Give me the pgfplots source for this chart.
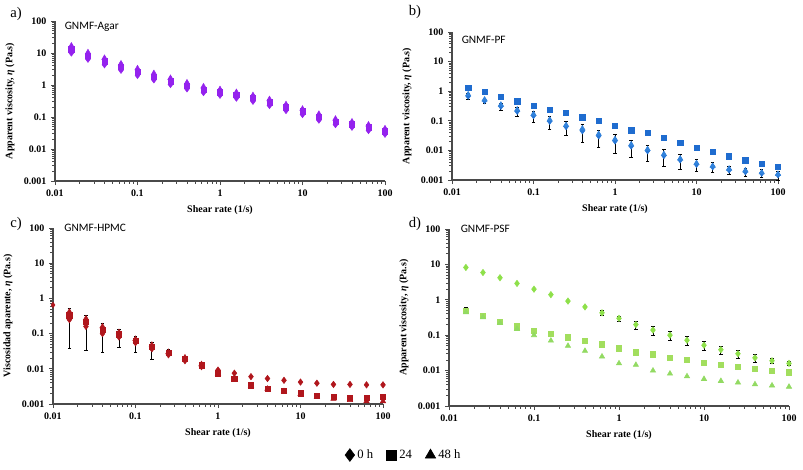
\documentclass[border=0pt]{standalone}
\usepackage{pgfplots}
\pgfplotsset{compat=1.18}
\usepackage{pgfplotstable}
\usepackage{fontspec}
\setmainfont{Liberation Serif}
\newfontfamily\carlito{Carlito}

\definecolor{axgray}{HTML}{4A4A4A}
\definecolor{cpur}{HTML}{9422EE}
\definecolor{cblueS}{HTML}{1F6CCF}
\definecolor{cblueD}{HTML}{2676D6}
\definecolor{cblueT}{HTML}{3283DC}
\definecolor{cred}{HTML}{B0161C}
\definecolor{cgreenD}{HTML}{8EE04A}
\definecolor{cgreenS}{HTML}{A2DE5E}
\definecolor{cgreenT}{HTML}{92DA62}

\pgfplotstableread{
x d s t
0.0158 10 13 17
0.0251 6.4 8.2 10.5
0.0398 4.3 5.5 7.0
0.0631 2.9 3.7 4.7
0.1 2.0 2.6 3.3
0.158 1.45 1.85 2.35
0.251 1.04 1.3 1.65
0.398 0.76 0.95 1.2
0.631 0.58 0.72 0.9
1 0.48 0.6 0.74
1.58 0.39 0.49 0.6
2.51 0.31 0.39 0.48
3.98 0.23 0.29 0.36
6.31 0.16 0.2 0.25
10 0.12 0.15 0.18
15.8 0.08 0.1 0.125
25.1 0.058 0.072 0.088
39.8 0.048 0.06 0.072
63.1 0.038 0.048 0.058
100 0.029 0.036 0.044
}\tA

\pgfplotstableread{
x d s t de
0.0158 0.68 1.3 0.78 0.15
0.0251 0.48 0.95 0.52 0.1
0.0398 0.31 0.65 0.35 0.08
0.0631 0.21 0.46 0.24 0.07
0.1 0.15 0.32 0.17 0.06
0.158 0.097 0.23 0.11 0.045
0.251 0.064 0.19 0.072 0.032
0.398 0.046 0.13 0.055 0.027
0.631 0.031 0.1 0.036 0.018
1 0.021 0.068 0.024 0.013
1.58 0.014 0.048 0.016 0.008
2.51 0.0097 0.04 0.011 0.0055
3.98 0.0067 0.027 0.0075 0.0038
6.31 0.0048 0.018 0.0053 0.0025
10 0.0034 0.0125 0.0037 0.0014
15.8 0.0028 0.0088 0.003 0.001
25.1 0.0022 0.0064 0.0024 0.0007
39.8 0.0019 0.0047 0.0021 0.0006
63.1 0.0017 0.0035 0.0018 0.0005
100 0.0015 0.0028 0.0016 0.0005
}\tB

\pgfplotstableread{
x d s t
0.0158 0.25 0.33 0.42
0.0251 0.16 0.22 0.27
0.0398 0.10 0.13 0.16
0.0631 0.08 0.095 0.11
0.1 0.055 0.062 0.07
0.158 0.037 0.043 0.048
0.251 0.025 0.028 0.03
0.398 0.017 0.019 0.021
0.631 0.0115 0.0125 0.0135
1 0.0092 0.0075 0.0072
1.58 0.0075 0.0053 0.005
2.51 0.006 0.0034 0.0033
3.98 0.0053 0.0027 0.0027
6.31 0.0047 0.0024 0.0023
10 0.0042 0.0020 0.0019
15.8 0.0039 0.0017 0.0016
25.1 0.0036 0.0016 0.0014
39.8 0.0036 0.0015 0.0013
63.1 0.0035 0.0015 0.0012
100 0.0035 0.0016 0.0012
}\tC

% error bars of the 48 h series in c (where visible)
\pgfplotstableread{
x t tp tm
0.0158 0.42 0.1 0.383
0.0251 0.27 0.06 0.237
0.0398 0.16 0.04 0.13
0.0631 0.11 0.02 0.07
0.1 0.07 0.015 0.04
0.158 0.048 0.01 0.029
0.251 0.03 0.006 0.006
}\tCe

\pgfplotstableread{
x d s t de se
0.0158 8.2 0.48 0.44 0 0.15
0.0251 5.9 0.35 0.32 0 0.06
0.0398 4.2 0.24 0.22 0 0
0.0631 2.9 0.18 0.15 0 0
0.1 2.0 0.135 0.1 0 0
0.158 1.4 0.11 0.07 0 0
0.251 0.92 0.088 0.05 0 0
0.398 0.63 0.07 0.036 0 0
0.631 0.43 0.055 0.025 0.06 0
1 0.3 0.043 0.016 0.05 0
1.58 0.2 0.033 0.0145 0.05 0
2.51 0.14 0.029 0.01 0.04 0
3.98 0.1 0.023 0.0082 0.03 0
6.31 0.072 0.02 0.0069 0.02 0
10 0.052 0.017 0.0058 0.015 0
15.8 0.039 0.0145 0.0051 0.01 0
25.1 0.03 0.0128 0.0046 0.008 0
39.8 0.023 0.0113 0.0041 0.006 0
63.1 0.019 0.0098 0.0038 0.0035 0
100 0.016 0.009 0.0035 0.002 0
}\tD

\begin{document}
\begin{tikzpicture}
\path[use as bounding box] (0,0) rectangle (602.25pt,351.75pt);

% a
\begin{axis}[at={(41.25pt,216pt)}, anchor=south west, width=247.5pt, height=120pt,
    xmode=log, ymode=log, scale only axis,
    xmin=0.01, xmax=100, ymin=0.001, ymax=100,
    axis lines=left, axis line style={-, draw=axgray, line width=0.9pt},
    xtick={0.01,0.1,1,10,100}, xticklabels={\textbf{0.01},\textbf{0.1},\textbf{1},\textbf{10},\textbf{100}},
    ytick={0.001,0.01,0.1,1,10,100}, yticklabels={\textbf{0.001},\textbf{0.01},\textbf{0.1},\textbf{1},\textbf{10},\textbf{100}},
    tick align=outside, major tick length=3pt, minor tick length=2pt,
    tick style={axgray, line width=0.6pt},
    ticklabel style={font=\bfseries\fontsize{7.5}{8}\selectfont},
    label style={font=\bfseries\fontsize{7.5}{8}\selectfont},
    xlabel={Shear rate (1/s)}, clip=false,
  ylabel={Apparent viscosity, {\itshape η} (Pa.s)}]
\addplot[only marks, mark size=2.4pt, mark=diamond*, color=cpur] table[x=x,y=d] {\tA};
\addplot[only marks, mark size=2pt, mark=square*, color=cpur] table[x=x,y=s] {\tA};
\addplot[only marks, mark size=2.3pt, mark=triangle*, color=cpur] table[x=x,y=t] {\tA};
\node[anchor=north west, font=\carlito\fontsize{8.5}{10}\selectfont, inner sep=1pt] at (rel axis cs:0.025,1) {GNMF-Agar};
\end{axis}

% b
\begin{axis}[at={(339pt,216.75pt)}, anchor=south west, width=244.5pt, height=111pt,
    xmode=log, ymode=log, scale only axis,
    xmin=0.01, xmax=100, ymin=0.001, ymax=100,
    axis lines=left, axis line style={-, draw=axgray, line width=0.9pt},
    xtick={0.01,0.1,1,10,100}, xticklabels={\textbf{0.01},\textbf{0.1},\textbf{1},\textbf{10},\textbf{100}},
    ytick={0.001,0.01,0.1,1,10,100}, yticklabels={\textbf{0.001},\textbf{0.01},\textbf{0.1},\textbf{1},\textbf{10},\textbf{100}},
    tick align=outside, major tick length=3pt, minor tick length=2pt,
    tick style={axgray, line width=0.6pt},
    ticklabel style={font=\bfseries\fontsize{7.5}{8}\selectfont},
    label style={font=\bfseries\fontsize{7.5}{8}\selectfont},
    xlabel={Shear rate (1/s)}, clip=false,
  ylabel={Apparent viscosity, {\itshape η} (Pa.s)}]
\addplot[only marks, mark size=2.4pt, mark=diamond*, color=cblueD,
  error bars/.cd, y dir=both, y explicit,
    error bar style={black, line width=0.6pt},
    error mark options={black, rotate=90, mark size=1.3pt, line width=0.6pt}] table[x=x,y=d,y error=de] {\tB};
\addplot[only marks, mark size=2pt, mark=square*, color=cblueS] table[x=x,y=s] {\tB};
\addplot[only marks, mark size=2.3pt, mark=triangle*, color=cblueT] table[x=x,y=t] {\tB};
\node[anchor=north west, font=\carlito\fontsize{8.5}{10}\selectfont, inner sep=1pt] at (rel axis cs:0.025,0.98) {GNMF-PF};
\end{axis}

% c
\begin{axis}[at={(39.75pt,48.75pt)}, anchor=south west, width=247.5pt, height=132pt,
    xmode=log, ymode=log, scale only axis,
    xmin=0.01, xmax=100, ymin=0.001, ymax=100,
    axis lines=left, axis line style={-, draw=axgray, line width=0.9pt},
    xtick={0.01,0.1,1,10,100}, xticklabels={\textbf{0.01},\textbf{0.1},\textbf{1},\textbf{10},\textbf{100}},
    ytick={0.001,0.01,0.1,1,10,100}, yticklabels={\textbf{0.001},\textbf{0.01},\textbf{0.1},\textbf{1},\textbf{10},\textbf{100}},
    tick align=outside, major tick length=3pt, minor tick length=2pt,
    tick style={axgray, line width=0.6pt},
    ticklabel style={font=\bfseries\fontsize{7.5}{8}\selectfont},
    label style={font=\bfseries\fontsize{7.5}{8}\selectfont},
    xlabel={Shear rate (1/s)}, clip=false,
  ylabel={Viscosidad aparente, {\itshape η} (Pa.s)},
  legend style={at={(rel axis cs:1.064,-0.29)}, anchor=center, draw=none, fill=none,
    legend columns=3, font=\fontsize{9.5}{10}\selectfont,
    /tikz/every even column/.append style={column sep=8pt}},
  legend cell align=left]
\addlegendimage{only marks, mark=diamond*, black, mark size=4.8pt}
\addlegendentry{0 h}
\addlegendimage{only marks, mark=square*, black, mark size=3.8pt}
\addlegendentry{24}
\addlegendimage{only marks, mark=triangle*, black, mark size=4.5pt}
\addlegendentry{48 h}
\addplot[forget plot, draw=none, mark=none,
  error bars/.cd, y dir=both, y explicit,
    error bar style={black, line width=0.6pt},
    error mark options={black, rotate=90, mark size=1.3pt, line width=0.6pt}] table[x=x,y=t,y error plus=tp,y error minus=tm] {\tCe};
\addplot[forget plot, only marks, mark size=2.3pt, mark=triangle*, color=cred] table[x=x,y=t] {\tC};
\addplot[forget plot, only marks, mark size=2pt, mark=square*, color=cred] table[x=x,y=s] {\tC};
\addplot[forget plot, only marks, mark size=2.4pt, mark=diamond*, color=cred] table[x=x,y=d] {\tC};
\addplot[forget plot, only marks, mark size=2pt, mark=diamond*, color=cred] coordinates {(0.01,0.65)};
\node[anchor=west, font=\carlito\fontsize{8.5}{10}\selectfont, inner sep=1pt] at (rel axis cs:0.03,1) {GNMF-HPMC};
\end{axis}

% d
\begin{axis}[at={(336.75pt,47.25pt)}, anchor=south west, width=255pt, height=132.75pt,
    xmode=log, ymode=log, scale only axis,
    xmin=0.01, xmax=100, ymin=0.001, ymax=100,
    axis lines=left, axis line style={-, draw=axgray, line width=0.9pt},
    xtick={0.01,0.1,1,10,100}, xticklabels={\textbf{0.01},\textbf{0.1},\textbf{1},\textbf{10},\textbf{100}},
    ytick={0.001,0.01,0.1,1,10,100}, yticklabels={\textbf{0.001},\textbf{0.01},\textbf{0.1},\textbf{1},\textbf{10},\textbf{100}},
    tick align=outside, major tick length=3pt, minor tick length=2pt,
    tick style={axgray, line width=0.6pt},
    ticklabel style={font=\bfseries\fontsize{7.5}{8}\selectfont},
    label style={font=\bfseries\fontsize{7.5}{8}\selectfont},
    xlabel={Shear rate (1/s)}, clip=false,
  ylabel={Apparent viscosity, {\itshape η} (Pa.s)}]
\addplot[only marks, mark size=2.4pt, mark=diamond*, color=cgreenD,
  error bars/.cd, y dir=both, y explicit,
    error bar style={black, line width=0.6pt},
    error mark options={black, rotate=90, mark size=1.3pt, line width=0.6pt}] table[x=x,y=d,y error=de] {\tD};
\addplot[only marks, mark size=2pt, mark=square*, color=cgreenS,
  error bars/.cd, y dir=plus, y explicit,
    error bar style={black, line width=0.6pt},
    error mark options={black, rotate=90, mark size=1.3pt, line width=0.6pt}] table[x=x,y=s,y error=se] {\tD};
\addplot[only marks, mark size=2.3pt, mark=triangle*, color=cgreenT] table[x=x,y=t] {\tD};
\node[anchor=west, font=\carlito\fontsize{8.5}{10}\selectfont, inner sep=1pt] at (rel axis cs:0.03,1) {GNMF-PSF};
\end{axis}

\node[font=\fontsize{11}{12}\selectfont] at (12pt,341.25pt) {a)};
\node[font=\fontsize{11}{12}\selectfont] at (311.25pt,342.75pt) {b)};
\node[font=\fontsize{11}{12}\selectfont] at (12pt,183.75pt) {c)};
\node[font=\fontsize{11}{12}\selectfont] at (311.25pt,183.75pt) {d)};
\end{tikzpicture}
\end{document}
